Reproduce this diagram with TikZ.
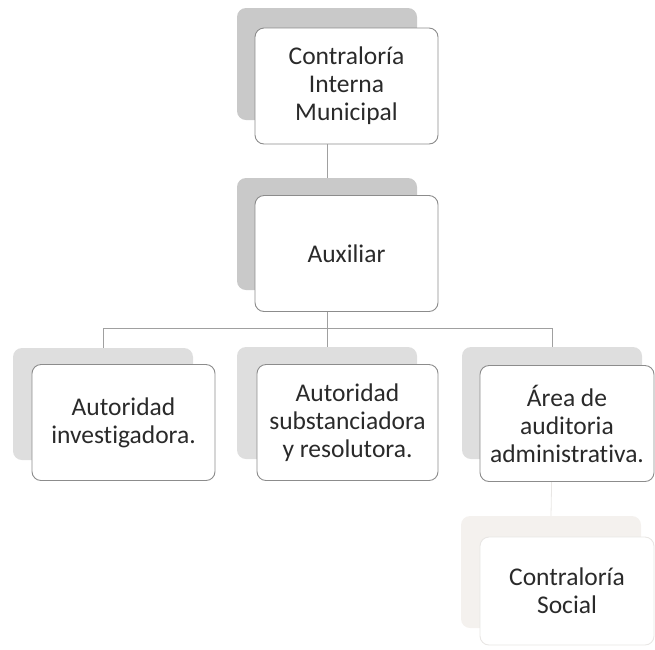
\documentclass[tikz,border=0pt]{standalone}
\usepackage{fontspec}
\setmainfont{Carlito}[Ligatures=NoCommon]
\definecolor{lineGray}{HTML}{A0A0A0}
\definecolor{boxGray}{HTML}{8C8C8C}
\definecolor{boxFaint}{HTML}{E8E6E4}
\definecolor{textGray}{HTML}{2A2A2A}
\definecolor{backDark}{HTML}{C9C9C9}
\definecolor{backLight}{HTML}{DEDEDE}
\definecolor{backFaint}{HTML}{F4F1EE}

\begin{document}
\begin{tikzpicture}
[x=1pt,y=-1pt,
  lineDecorate/.style={-,draw=lineGray,line width=0.8pt},%
  boxDecorate/.style={shape=rectangle,rounded corners=9pt,draw=boxGray,line width=0.9pt,
    fill=white,minimum height=116pt,inner sep=0pt,align=center,text=textGray,
    font=\fontsize{25.5}{28}\selectfont},
  backDecorate/.style={shape=rectangle,rounded corners=9pt,minimum width=180pt,
    minimum height=112pt,inner sep=0pt}]
\useasboundingbox (0,0) rectangle (655,649);
%% back plates
\foreach \nodename/\x/\y/\shade in {
  cim/327/64/backDark, aux/327/234/backDark,
  inv/103/404/backLight, sub/327/403/backLight, aud/552/403/backLight,
  soc/551/572/backFaint}
{
  \node (\nodename back) at (\x,\y) [backDecorate,fill=\shade] {};
}
%% lines
\coordinate (bus) at (0,328);
\draw[lineDecorate] (cimback.south) -- (auxback.north);
\draw[lineDecorate] (auxback.south) -- (subback.north);
\draw[lineDecorate] (auxback.south |- bus) -| (invback.north);
\draw[lineDecorate] (auxback.south |- bus) -| (audback.north);
\draw[lineDecorate,draw=boxFaint] (audback.south) -- (socback.north);
%% front boxes
\foreach \nodename/\x/\y/\w/\txt in {
  cim/346.5/86/183/{Contraloría\\Interna\\Municipal},
  aux/346.5/253.5/183/{Auxiliar},
  inv/123.5/422.5/183/{Autoridad\\investigadora.},
  sub/347.5/422.5/181/{Autoridad\\substanciadora\\y resolutora.},
  aud/567/423.5/174/{Área de\\auditoria\\administrativa.}}
{
  \node (\nodename) at (\x,\y) [boxDecorate,minimum width=\w pt] {\txt};
}
\node (soc) at (567,591) [boxDecorate,draw=boxFaint,minimum width=174pt,minimum height=108pt]
  {Contraloría\\Social};
\end{tikzpicture}
\end{document}
